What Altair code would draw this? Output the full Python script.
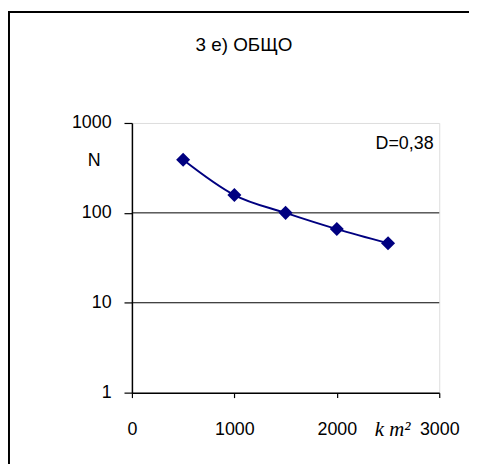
import altair as alt
import pandas as pd

# ---- data ----
area_km2 = [500, 1000, 1500, 2000, 2500]
count_n = [390, 158, 100, 66, 46]
x_ticks = [0, 1000, 2000, 3000]
y_ticks = [1, 10, 100, 1000]
grid_values = [10, 100]
title_text = "3 e) ОБЩО"
d_label = "D=0,38"
y_label = "N"
x_unit = "k m²"

W, H = 310, 272
navy = "#000080"
FONT = "Liberation Sans"

df = pd.DataFrame({"km2": area_km2, "N": count_n})
one = pd.DataFrame({"a": [0]})

xscale = alt.Scale(domain=[0, 3000], nice=False, zero=False)
yscale = alt.Scale(type="log", domain=[1, 1000], nice=False)

base = alt.Chart(df)

line = base.mark_line(color=navy, strokeWidth=2, interpolate="monotone").encode(
    x=alt.X("km2:Q", scale=xscale,
            axis=alt.Axis(values=x_ticks, format="d", title=None, grid=False, domainColor="black",
                          domainWidth=1.5, tickColor="black", tickSize=5, tickWidth=1.2,
                          labelPadding=23, labelFontSize=18, labelFont=FONT,
                          labelColor="black", labelFlush=False)),
    y=alt.Y("N:Q", scale=yscale,
            axis=alt.Axis(values=y_ticks, format="d", title=None, grid=False,
                          domainColor="black", domainWidth=1.5, tickColor="black",
                          tickSize=8, tickWidth=1.2, labelPadding=13, labelFontSize=18,
                          labelFont=FONT, labelColor="black")),
)

points = base.mark_point(shape="diamond", filled=True, color=navy, size=200, opacity=1).encode(
    x=alt.X("km2:Q", scale=xscale),
    y=alt.Y("N:Q", scale=yscale),
)

grid = alt.Chart(pd.DataFrame({"g": grid_values})).mark_rule(color="black", strokeWidth=1).encode(
    y=alt.Y("g:Q", scale=yscale),
)

# outer frame (decorative)
frame_top = alt.Chart(one).mark_rule(color="black", strokeWidth=2).encode(
    x=alt.value(-124), x2=alt.value(345), y=alt.value(-112)
)
frame_left = alt.Chart(one).mark_rule(color="black", strokeWidth=2).encode(
    x=alt.value(-124), y=alt.value(-113), y2=alt.value(360)
)

def label(txt, x, y, size=18, font=FONT, style="normal", align="center"):
    return alt.Chart(pd.DataFrame({"t": [txt]})).mark_text(
        fontSize=size, font=font, fontStyle=style, color="black",
        align=align, baseline="alphabetic"
    ).encode(text="t:N", x=alt.value(x), y=alt.value(y))

title = label(title_text, 113, -73, size=19)
n_lab = label(y_label, -38, 43)
d_lab = label(d_label, 275, 26, size=18)
unit = label(x_unit, 263, 316, size=21, font="Liberation Serif", style="italic")

chart = alt.layer(grid, line, points, frame_top, frame_left, title, n_lab, d_lab, unit).properties(
    width=W, height=H,
    autosize=alt.AutoSizeParams(type="none"),
    padding={"left": 125, "top": 114, "right": 30, "bottom": 70},
).configure_view(stroke="#999999", strokeWidth=1.5).configure(background="white")

chart.save("out.html", embed_options={"renderer": "svg", "actions": False})
